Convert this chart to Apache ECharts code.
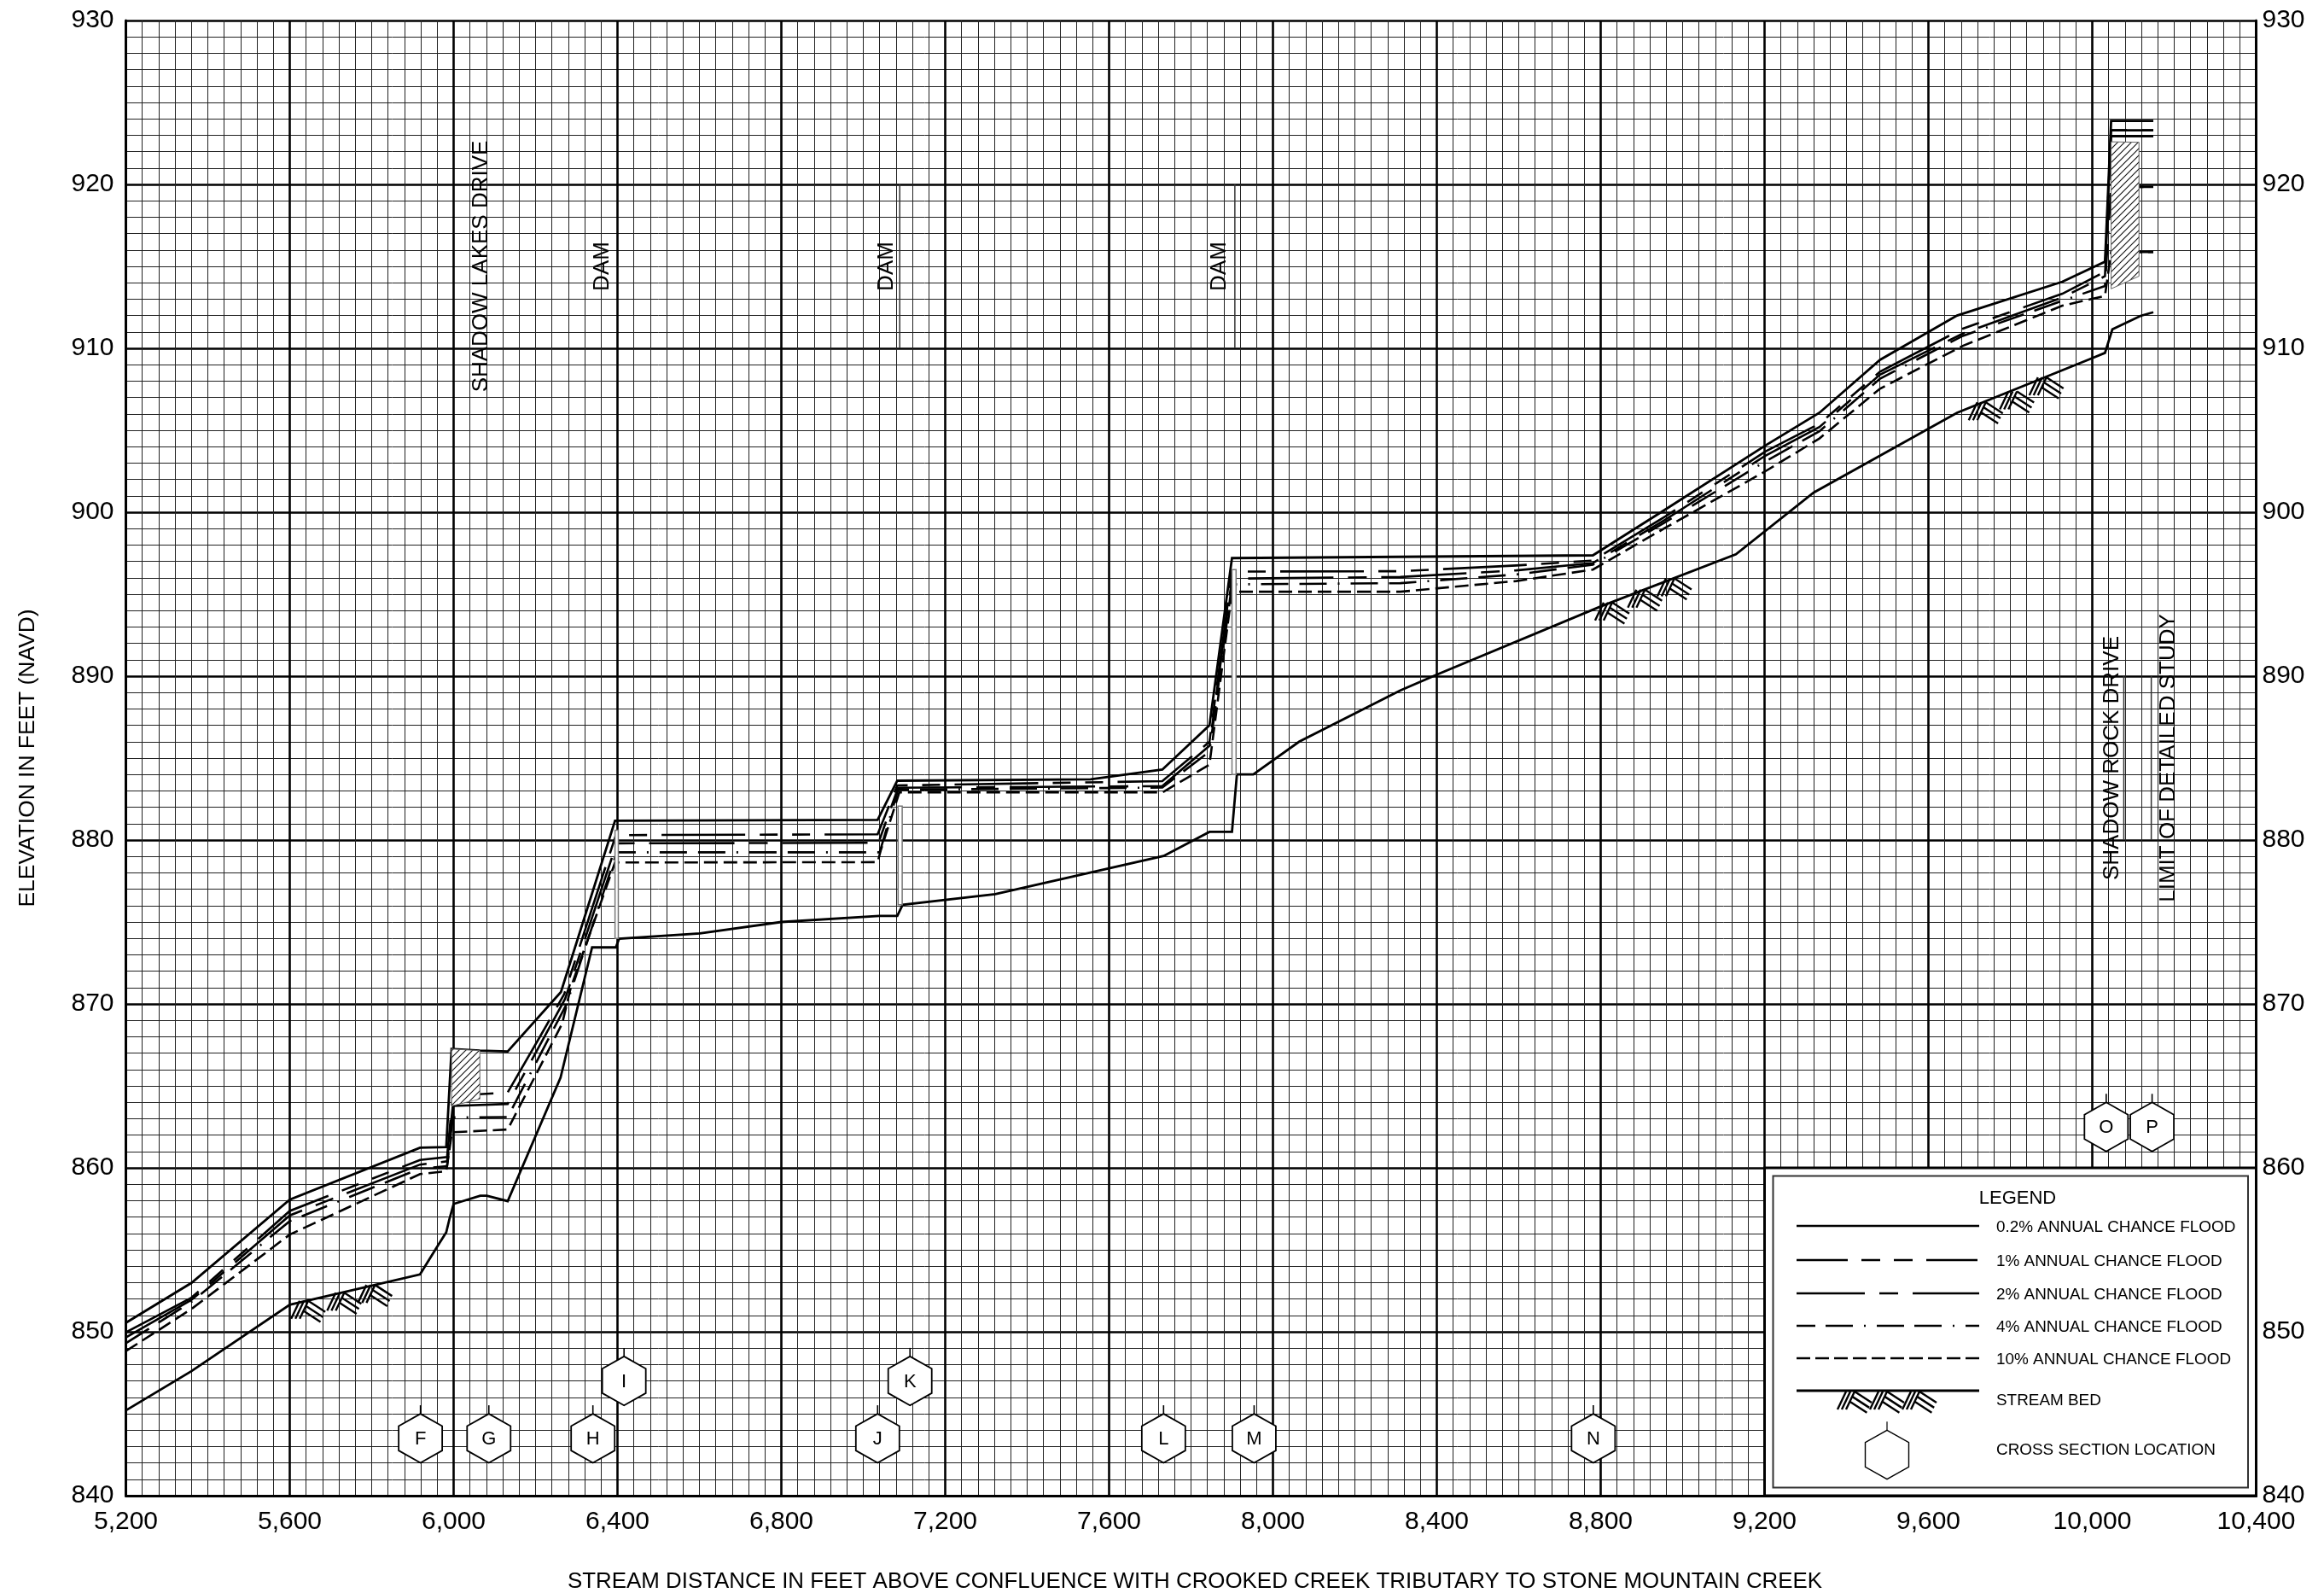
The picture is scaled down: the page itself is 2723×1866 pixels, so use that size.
<!DOCTYPE html>
<html><head><meta charset="utf-8">
<style>html,body{margin:0;padding:0;background:#fff}#c{width:2723px;height:1866px}</style>
<script src="https://cdn.jsdelivr.net/npm/echarts@6/dist/echarts.min.js"></script>
</head><body><div id="c"></div>
<script>
// ---- data (station ft, elevation ft) ----
const xTitle = 'STREAM DISTANCE IN FEET ABOVE CONFLUENCE WITH CROOKED CREEK TRIBUTARY TO STONE MOUNTAIN CREEK';
const yTitle = 'ELEVATION IN FEET (NAVD)';

const sta02  = [5200,5360,5600,5918,5982,5995,6064,6132,6262,6394,7035,7083,7555,7730,7845,7900,8781,8958,9202,9334,9482,9670,9927,10031,10046,10149];
const elev02 = [850.55,852.98,858.06,861.23,861.27,867.25,867.15,867.1,870.73,881.18,881.23,883.62,883.7,884.3,887.0,897.2,897.37,900.17,904.07,906.07,909.3,912.0,914.06,915.28,923.87,923.87];

const sta1  = [5200,5360,5600,5918,5984,5998,6132,6213,6270,6396,7035,7083,7730,7845,7900,8311,8594,8781,8958,9202,9334,9482,9684,9927,10031,10046,10149];
const elev1 = [849.97,852.08,857.37,860.48,860.66,864.4,864.6,868.1,870.6,880.3,880.35,883.33,883.59,886.0,896.38,896.4,896.75,897.05,899.75,903.7,905.4,908.58,911.2,913.33,914.67,923.3,923.3];

const sta2  = [5200,5360,5600,5918,5984,5998,6132,6272,6398,7037,7085,7730,7845,7900,8311,8594,8781,8958,9202,9334,9482,9684,9927,10031,10046,10149];
const elev2 = [849.65,851.94,857.1,860.2,860.4,863.78,863.9,870.3,879.8,879.83,883.19,883.29,885.75,895.95,896.05,896.45,896.9,899.55,903.45,905.2,908.4,910.9,913.1,914.4,922.95,922.95];

const sta4  = [5200,5360,5600,5918,5984,5998,6132,6276,6398,7040,7085,7730,7845,7900,8311,8594,8781,8958,9202,9334,9482,9684,9927,10031,10046,10149];
const elev4 = [849.3,851.82,856.75,859.96,860.1,863.08,863.1,870.0,879.25,879.25,883.07,883.2,885.4,895.6,895.67,896.2,896.8,899.4,903.1,904.94,908.15,910.76,912.9,913.8,919.85,919.85];

const sta10  = [5200,5360,5600,5918,5982,5996,6132,6265,6286,6394,7035,7043,7088,7730,7845,7900,8311,8594,8781,8958,9202,9334,9482,9684,9927,10031,10046,10149];
const elev10 = [848.82,851.39,855.93,859.62,859.79,862.17,862.34,868.8,871.0,878.63,878.65,879.4,882.9,882.9,884.6,895.15,895.15,895.8,896.5,899.05,902.5,904.5,907.54,910.15,912.6,913.2,915.88,915.88];

const staBed  = [5200,5360,5600,5918,5960,5982,5990,6000,6065,6081,6132,6261,6338,6396,6404,6601,6800,7039,7083,7096,7322,7733,7845,7900,7912,7952,8064,8311,8400,8800,9130,9320,9670,10000,10031,10049,10118,10149];
const elevBed = [845.2,847.6,851.65,853.5,855.2,856.07,856.9,857.8,858.3,858.3,857.97,865.5,873.45,873.45,873.98,874.3,875.0,875.37,875.37,876.05,876.7,879.03,880.5,880.5,884.0,884.0,886.0,889.13,890.09,894.25,897.43,901.2,906.07,909.4,909.72,911.16,911.98,912.2];

// solid stubs of the profiles that show to the right of the upstream bridge
const stubSta  = [10046,10149,null,10046,10149,null,10114,10149,null,10114,10149];
const stubElev = [923.3,923.3,null,922.95,922.95,null,919.85,919.85,null,915.88,915.88];

// stream-bed chevrons (apex station / elevation)
const bedMarkSta  = [5643,5731,5806,8826,8906,8978,9738,9814,9886];
const bedMarkElev = [851.94,852.43,852.91,894.54,895.32,896.01,906.76,907.42,908.28];

// cross sections
const xsNames = ['F','G','H','I','J','K','L','M','N','O','P'];
const xsSta   = [5919,6086,6340,6416,7035,7114,7733,7954,8782,10034,10146];
const xsElev  = [843.5,843.5,843.5,847,843.5,847,843.5,843.5,843.5,862.5,862.5];

// bridge decks (hatched) and dam faces (narrow white bars)
const deck1 = [[5995,867.25],[6064,867.15],[6064,864.2],[5995,863.78]];
const deck2 = [[10046,922.6],[10114,922.57],[10114,914.4],[10046,913.63]];
const dam1  = [[6394,880.6],[6402,880.6],[6402,874],[6394,874]];
const dam2  = [[7085,882.07],[7095,882.07],[7095,876.05],[7085,876.05]];
const dam3  = [[7900,896.5],[7910,896.5],[7910,884],[7900,884]];

// thin structure reference lines: [station, from, to]
const refLines = [[7089,910,920],[7907,910,920],[10077,880,890],[10144,880,890]];

// rotated annotations
const noteText = ['SHADOW LAKES DRIVE','DAM','DAM','DAM','SHADOW ROCK DRIVE','LIMIT OF DETAILED STUDY'];
const noteSta  = [6068,6364,7056,7870,10048,10186];
const noteElev = [915,915,915,915,885,885];

// legend
const legendTitle = 'LEGEND';
const legendNames = ['0.2% ANNUAL CHANCE FLOOD','1% ANNUAL CHANCE FLOOD','2% ANNUAL CHANCE FLOOD','4% ANNUAL CHANCE FLOOD','10% ANNUAL CHANCE FLOOD','STREAM BED','CROSS SECTION LOCATION'];

// ---- styles ----
const FONT = '"Liberation Sans", Arial, sans-serif';
const INK = '#000';
const dashes = {d1:[98,17,21,17,21,17], d2:[100,17,22,17], d4:[32,13,32,13,2,13], d10:[16,7]};
const G = {left:147.5, top:24, width:2496, height:1728};

const hatchCanvas = document.createElement('canvas');
hatchCanvas.width = hatchCanvas.height = 8;
(function(){const c=hatchCanvas.getContext('2d');c.fillStyle='#fff';c.fillRect(0,0,8,8);c.strokeStyle='#111';c.lineWidth=1.1;
 c.beginPath();c.moveTo(-2,10);c.lineTo(10,-2);c.moveTo(-6,6);c.lineTo(6,-6);c.moveTo(2,14);c.lineTo(14,2);c.stroke();})();

function lineSeries(name, sta, elev, dash, width){
  return {type:'line', name, data: sta.map((s,i)=>[s,elev[i]]), symbol:'none', z:5, silent:true, animation:false, connectNulls:false,
    lineStyle:{color:INK, width: width||2.6, type: dash||'solid', cap:'butt', join:'miter'}};
}
function chevron(cx,cy){ // stroke segments around an apex, in px
  const s=[];
  for(let i=0;i<3;i++){
    s.push([cx+1-i*5, cy+1, cx-9-i*5, cy+22]);
    const t=i*0.28, x=cx+1-10*t, y=cy+1+21*t;
    s.push([x, y, x+20, y+13]);
  }
  return s;
}
function polyItem(pts, api, style){
  return {type:'polygon', shape:{points:pts.map(p=>api.coord(p))}, style};
}
const axisLbl = {color:INK, fontFamily:FONT, fontSize:30, margin:14};
const yAxisBase = {type:'value', min:840, max:930, interval:10, axisTick:{show:false}, axisLabel:axisLbl,
  axisLine:{show:true, onZero:false, lineStyle:{color:INK,width:3}}};

const series = [
  // blank panel behind the legend
  {type:'custom', silent:true, animation:false, z:2, clip:false, coordinateSystem:'cartesian2d', data:[[9200,860]],
   renderItem(p,api){const a=api.coord([9200,860]),b=api.coord([10400,840]);
     return {type:'rect', shape:{x:a[0],y:a[1],width:b[0]-a[0],height:b[1]-a[1]}, style:{fill:'#fff',stroke:INK,lineWidth:3}};}},
  // thin reference lines
  {type:'custom', silent:true, animation:false, z:3, data:refLines.map(r=>[r[0],r[1],r[2]]),
   renderItem(p,api){const s=api.value(0),a=api.coord([s,api.value(1)]),b=api.coord([s,api.value(2)]);
     return {type:'line', shape:{x1:a[0],y1:a[1],x2:b[0],y2:b[1]}, style:{stroke:'#333',lineWidth:1.5}};}},
  lineSeries(legendNames[0], sta02, elev02, null, 2.8),
  lineSeries(legendNames[1], sta1, elev1, dashes.d1),
  lineSeries(legendNames[2], sta2, elev2, dashes.d2),
  lineSeries(legendNames[3], sta4, elev4, dashes.d4),
  lineSeries(legendNames[4], sta10, elev10, dashes.d10),
  lineSeries(legendNames[5], staBed, elevBed, null, 2.8),
  lineSeries('profile stubs', stubSta, stubElev, null, 2.8),
  // bridge decks + dams on top of the profiles
  {type:'custom', silent:true, animation:false, z:6, data:[0,1,2].map(i=>[i]),
   renderItem(p,api){const d=[dam1,dam2,dam3][p.dataIndex];return polyItem(d,api,{fill:'#fff',stroke:'#777',lineWidth:1.5});}},
  {type:'custom', silent:true, animation:false, z:7, data:[0,1].map(i=>[i]),
   renderItem(p,api){const d=[deck1,deck2][p.dataIndex];return polyItem(d,api,{fill:{image:hatchCanvas,repeat:'repeat'},stroke:'#666',lineWidth:1});}},
  // stream-bed chevrons
  {type:'custom', silent:true, animation:false, z:7, data:bedMarkSta.map((s,i)=>[s,bedMarkElev[i]]),
   renderItem(p,api){const c=api.coord([api.value(0),api.value(1)]);
     return {type:'group', children:chevron(c[0],c[1]).map(g=>({type:'line',shape:{x1:g[0],y1:g[1],x2:g[2],y2:g[3]},style:{stroke:INK,lineWidth:2.4}}))};}},
  // annotations
  {type:'custom', silent:true, animation:false, z:8, data:noteSta.map((s,i)=>[s,noteElev[i]]),
   renderItem(p,api){const c=api.coord([api.value(0),api.value(1)]);
     return {type:'text', x:c[0], y:c[1], rotation:Math.PI/2,
       style:{text:noteText[p.dataIndex], font:'26px '+FONT, fill:INK, textAlign:'center', textVerticalAlign:'middle'}};}},
  // cross-section hexagons
  {type:'custom', silent:true, animation:false, z:9, data:xsSta.map((s,i)=>[s,xsElev[i]]),
   renderItem(p,api){const c=api.coord([api.value(0),api.value(1)]),x=c[0],y=c[1],w=25.5,h=28.7,q=14.3;
     return {type:'group',children:[
       {type:'line',shape:{x1:x,y1:y-h-10,x2:x,y2:y-h},style:{stroke:INK,lineWidth:1.6}},
       {type:'polygon',shape:{points:[[x,y-h],[x+w,y-q],[x+w,y+q],[x,y+h],[x-w,y+q],[x-w,y-q]]},style:{fill:'#fff',stroke:INK,lineWidth:1.8}},
       {type:'text',x:x,y:y+1,style:{text:xsNames[p.dataIndex],font:'22px '+FONT,fill:INK,textAlign:'center',textVerticalAlign:'middle'}}
     ]};}}
];

// ---- legend graphics ----
const LX1=2105, LX2=2319, TX=2339;
const rowY=[1436,1476,1515,1553,1591,1629];
const txtY=[1438,1478,1517,1555,1593,1641,1699];
const legendDash=[null,[60,16,22,16,22,16],[80,17,22,17],[32,12,32,13,2,13],[16,6]];
const legendOffset=[0,0,0,10,0];
const gfx=[{type:'rect',z:20,shape:{x:2077.5,y:1377.5,width:556.5,height:365},style:{fill:'#fff',stroke:'#333',lineWidth:2}},
 {type:'text',z:21,x:2364,y:1404,style:{text:legendTitle,font:'22px '+FONT,fill:INK,textAlign:'center',textVerticalAlign:'middle'}}];
legendNames.forEach((n,i)=>gfx.push({type:'text',z:21,x:TX,y:txtY[i],style:{text:n,font:'18.9px '+FONT,fill:INK,textAlign:'left',textVerticalAlign:'middle'}}));
[0,1,2,3,4,5].forEach(i=>gfx.push({type:'line',z:21,shape:{x1:LX1,y1:rowY[i],x2:LX2,y2:rowY[i]},
  style:{stroke:INK,lineWidth:i==5?2.8:2.6,lineDash:legendDash[i]||null,lineDashOffset:legendOffset[i]||0}}));
[2172,2210,2248].forEach(a=>chevron(a,rowY[5]).forEach(g=>gfx.push({type:'line',z:21,shape:{x1:g[0],y1:g[1],x2:g[2],y2:g[3]},style:{stroke:INK,lineWidth:2.4}})));
(function(){const x=2211,y=1704,w=25.5,h=28.7,q=14.3;
 gfx.push({type:'line',z:21,shape:{x1:x,y1:y-h-10,x2:x,y2:y-h},style:{stroke:INK,lineWidth:1.2}});
 gfx.push({type:'polygon',z:21,shape:{points:[[x,y-h],[x+w,y-q],[x+w,y+q],[x,y+h],[x-w,y+q],[x-w,y-q]]},style:{fill:'#fff',stroke:INK,lineWidth:1.4}});})();

const chart = echarts.init(document.getElementById('c'), null, {renderer:'canvas', width:2723, height:1866});
chart.setOption({
  animation:false, backgroundColor:'#fff',
  grid:{left:G.left, top:G.top, width:G.width, height:G.height, show:false},
  title:[
    {text:xTitle, left:1395, top:1835, textAlign:'center', textStyle:{color:INK,fontFamily:FONT,fontSize:25.9,fontWeight:'normal'}}
  ],
  xAxis:{type:'value', min:5200, max:10400, interval:400, axisTick:{show:false},
    axisLine:{show:true, onZero:false, lineStyle:{color:INK,width:3}},
    axisLabel:Object.assign({},axisLbl,{margin:16, formatter:v=>v.toLocaleString('en-US')}),
    splitLine:{show:true, lineStyle:{color:INK,width:2.6}},
    minorTick:{show:false, splitNumber:10},
    minorSplitLine:{show:true, lineStyle:{color:'#222',width:1}}},
  yAxis:[
    Object.assign({},yAxisBase,{position:'left',
      splitLine:{show:true, lineStyle:{color:INK,width:2.6}},
      minorTick:{show:false, splitNumber:10},
      minorSplitLine:{show:true, lineStyle:{color:'#222',width:1}},
      name:yTitle, nameLocation:'middle', nameGap:102, nameTextStyle:{color:INK,fontFamily:FONT,fontSize:26.4}}),
    Object.assign({},yAxisBase,{position:'right', splitLine:{show:false}, axisLabel:Object.assign({},axisLbl,{margin:7})})
  ],
  series, graphic:{elements:gfx}
});
</script></body></html>
